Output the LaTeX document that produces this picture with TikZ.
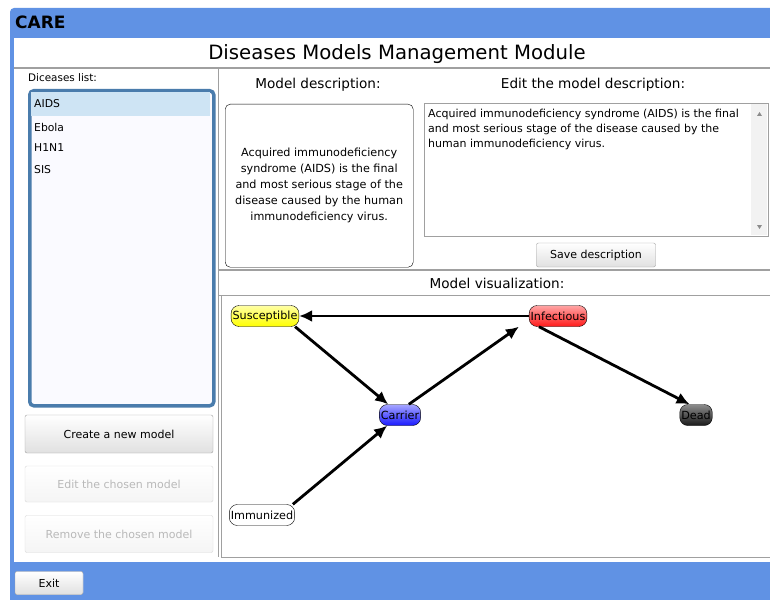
\documentclass[tikz,border=0pt]{standalone}
\usepackage{fontspec}
\setmainfont{DejaVu Sans}
\usepackage{tikz}
\usetikzlibrary{arrows.meta,positioning}
\definecolor{WinBlue}{RGB}{96,146,228}
\definecolor{ListBlue}{RGB}{74,124,172}
\definecolor{SelBlue}{RGB}{206,228,244}
\definecolor{PanelGray}{RGB}{160,160,160}
\definecolor{OffText}{RGB}{185,185,185}

\begin{document}
\begin{tikzpicture}[
    x=1pt, y=-1pt,
    label/.style={inner sep=0pt, font=\fontsize{13.6}{15}\selectfont},
    small/.style={inner sep=0pt, font=\fontsize{10.4}{12}\selectfont},
    item/.style={inner sep=0pt, anchor=west, font=\fontsize{10.8}{12}\selectfont},
    button/.style={
      draw=PanelGray,
      rounded corners=2pt,
      top color=white,
      bottom color=black!12,
      font=\fontsize{11}{13}\selectfont,
      inner sep=0pt
    },
    offbutton/.style={
      button,
      draw=black!15,
      top color=white,
      bottom color=black!4,
      text=OffText
    },
    state/.style={
      draw=black,
      rounded corners=8pt,
      minimum height=21pt,
      inner xsep=1.5pt,
      font=\fontsize{11.2}{13}\selectfont
    },
    arrow/.style={-{Latex[length=13pt,width=12pt]}, line width=2.8pt}
  ]
    \useasboundingbox (0,0) rectangle (770,599);
    % window frame
    \fill[white] (0,0) rectangle (770,599);
    \fill[WinBlue, rounded corners=4pt] (10,8) rectangle (780,610);
    \fill[white] (14,38) rectangle (770,562);
    \node[anchor=west, inner sep=0pt, font=\bfseries\fontsize{17}{19}\selectfont]
      (app-name) at (15,22) {CARE};

    % title
    \node[inner sep=0pt, font=\fontsize{19.7}{22}\selectfont] (title) at (397,54)
      {Diseases Models Management Module};
    \draw[PanelGray, line width=1.2pt] (14,68) -- (770,68);
    \draw[PanelGray] (218,68) -- (218,557);

    % diseases list
    \node[small, anchor=west] (list-caption) at (28,78) {Diceases list:};
    \node[draw=ListBlue, line width=3.5pt, rounded corners=4pt, fill=blue!2,
      minimum width=184pt, minimum height=315pt, anchor=north west]
      (list-box) at (28,89) {};
    \fill[SelBlue] (31,92) rectangle (210,116);
    \node[item] (item-aids) at (34,104) {AIDS};
    \node[item] (item-ebola) at (34,127) {Ebola};
    \node[item] (item-h1n1) at (34,148) {H1N1};
    \node[item] (item-sis) at (34,170) {SIS};

    % buttons
    \node[button, minimum width=188pt, minimum height=38pt] (create-btn) at (119,434)
      {Create a new model};
    \node[offbutton, minimum width=188pt, minimum height=36pt] (edit-btn) at (119,484)
      {Edit the chosen model};
    \node[offbutton, minimum width=188pt, minimum height=37pt] (remove-btn) at (119,534)
      {Remove the chosen model};
    \node[button, minimum width=68pt, minimum height=23pt, fill=white] (exit-btn) at (49,583)
      {Exit};

    % description
    \node[label] (desc-caption) at (318,85) {Model description:};
    \node[label] (edit-caption) at (593,85) {Edit the model description:};
    \node[draw, rounded corners=5pt, minimum width=188pt, minimum height=163pt,
      align=center, font=\fontsize{11.2}{16}\selectfont, anchor=north west, inner xsep=1pt]
      (desc-box) at (225,104)
      {Acquired immunodeficiency\\syndrome (AIDS) is the final\\and most serious stage of the\\disease caused by the human\\immunodeficiency virus.};
    \node[draw=PanelGray, minimum width=344pt, minimum height=133pt, anchor=north west]
      (edit-box) at (424,103) {};
    \fill[black!5] (751,104) rectangle (767,235);
    \fill[black!45] (757,116) -- (762,116) -- (759.5,112) -- cycle;
    \fill[black!45] (757,225) -- (762,225) -- (759.5,229) -- cycle;
    \node[anchor=north west, align=left, inner sep=0pt,
      font=\fontsize{11}{15}\selectfont] (edit-text) at (428,109)
      {Acquired immunodeficiency syndrome (AIDS) is the final\\and most serious stage of the disease caused by the\\human immunodeficiency virus.};
    \node[button, minimum width=119pt, minimum height=24pt] (save-btn) at (596,255)
      {Save description};

    % visualization
    \draw[PanelGray, line width=1.2pt] (218,270) -- (770,270);
    \node[label] (vis-caption) at (497,283) {Model visualization:};
    \draw[PanelGray] (218,295) -- (770,295);
    \draw[PanelGray] (221,295) -- (221,557) -- (770,557);

    \node[state, top color=yellow!35, bottom color=yellow] (susceptible) at (265,316) {Susceptible};
    \node[state, top color=red!35, bottom color=red!90] (infectious) at (558,316) {Infectious};
    \node[state, top color=blue!35, bottom color=blue!90] (carrier) at (400,415) {Carrier};
    \node[state, top color=black!45, bottom color=black!90, text=black] (dead) at (696,415) {Dead};
    \node[state, fill=white] (immunized) at (262,515) {Immunized};

    \draw[arrow] (infectious) -- (susceptible);
    \draw[arrow] ([xshift=-4pt]susceptible.south east) -- ([xshift=9pt]carrier.north west);
    \draw[arrow] ([xshift=-12pt]carrier.north east) -- ([xshift=-10pt]infectious.south west);
    \draw[arrow] ([xshift=10pt]infectious.south west) -- ([xshift=10pt]dead.north west);
    \draw[arrow] ([xshift=-2pt]immunized.north east) -- ([xshift=8pt]carrier.south west);
  \end{tikzpicture}
\end{document}
